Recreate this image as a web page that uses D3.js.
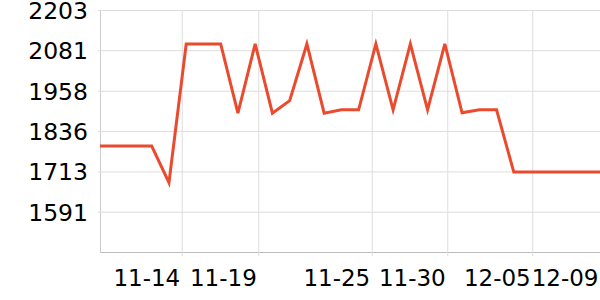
<!DOCTYPE html>
<html>
<head>
<meta charset="utf-8">
<script src="https://cdn.jsdelivr.net/npm/d3@7"></script>
<style>
  body { margin: 0; background: #fff; }
  svg { display: block; }
  svg text { font-family: "DejaVu Sans", sans-serif; }
</style>
</head>
<body>
<div id="chart"></div>
<script>
// valores diários (um ponto por dia)
const valores = [
  1790, 1790, 1790, 1790, 1679, 2100, 2100, 2100, 1890, 2100,
  1890, 1928, 2100, 1890, 1900, 1900, 2100, 1900, 2100, 1900,
  2100, 1891, 1900, 1900, 1711, 1711, 1711, 1711, 1711, 1711
];

// rótulos do eixo X e a posição (em índice de ponto) de cada um
const rotulosX = ["11-14", "11-19", "11-25", "11-30", "12-05", "12-09"];
const indicesX = [4.74, 9.18, 15.76, 20.14, 25.07, 29];

// ticks do eixo Y
const ticksY = [1591, 1713, 1836, 1958, 2081, 2203];
const minY = 1468.6, maxY = 2203;

const width = 600, height = 300;
const margin = { top: 10, right: 0, bottom: 48, left: 100 };

const svg = d3.select("#chart")
  .append("svg")
  .attr("width", width)
  .attr("height", height);

const x = d3.scaleLinear()
  .domain([0, valores.length - 1])
  .range([margin.left, width - margin.right]);

const y = d3.scaleLinear()
  .domain([minY, maxY])
  .range([height - margin.bottom, margin.top]);

// Grade horizontal + rótulos Y
const eixoY = svg.append("g")
  .attr("transform", `translate(${margin.left},0)`)
  .call(d3.axisLeft(y)
    .tickValues(ticksY)
    .tickSize(-(width - margin.left - margin.right))
    .tickSizeOuter(0)
    .tickFormat(d3.format("d")))
  .attr("font-family", null)
  .attr("font-size", null);

eixoY.select(".domain").attr("stroke", "#ccc");
eixoY.selectAll(".tick line").attr("stroke", "#ddd").attr("x1", -2);
eixoY.selectAll(".tick text")
  .attr("fill", "#000")
  .attr("x", -12)
  .attr("dy", "0.36em")
  .style("font-size", "23.5px");

// Grade vertical + rótulos X
const eixoX = svg.append("g")
  .attr("transform", `translate(0,${height - margin.bottom})`)
  .call(d3.axisBottom(x)
    .tickValues(indicesX)
    .tickSize(-(height - margin.bottom - margin.top))
    .tickSizeOuter(0)
    .tickFormat((d, i) => rotulosX[i]))
  .attr("font-family", null)
  .attr("font-size", null);

eixoX.select(".domain").attr("stroke", "#bbb");
eixoX.selectAll(".tick line").attr("stroke", "#ddd").attr("y1", 4);
eixoX.selectAll(".tick text")
  .attr("fill", "#000")
  .attr("text-anchor", "end")
  .attr("x", -2)
  .attr("y", 33.5)
  .attr("dy", 0)
  .style("font-size", "23px");

// Linha
const linha = d3.line()
  .x((d, i) => x(i))
  .y(d => y(d));

svg.append("path")
  .datum(valores)
  .attr("fill", "none")
  .attr("stroke", "#ea4a2e")
  .attr("stroke-width", 3)
  .attr("stroke-linejoin", "miter")
  .attr("d", linha);
</script>
</body>
</html>
